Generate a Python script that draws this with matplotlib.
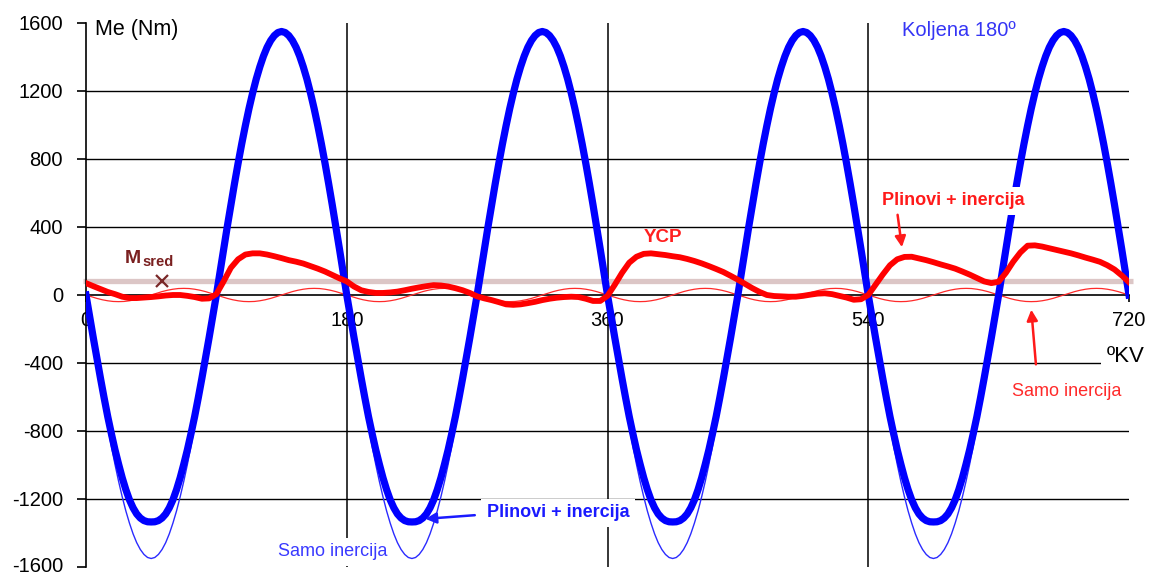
import numpy as np
import matplotlib
matplotlib.use("Agg")
import matplotlib.pyplot as plt
import matplotlib.transforms as mtransforms

plt.rcParams['font.family'] = ['Liberation Sans', 'DejaVu Sans']
plt.rcParams['axes.unicode_minus'] = False

# crank angle ticks and torque ticks
x_ticks = [0, 180, 360, 540, 720]
y_ticks = [-1600, -1200, -800, -400, 0, 400, 800, 1200, 1600]
y_labels = ['-1600', '-1200', '-800', '-400', '0', '400', '800', '1200', '1600']

# blue curves: one 180 deg cycle read at 2.5 deg steps (the four cycles look identical)
blue_step = 2.5
blue_gas_cycle = [0, -125, -250, -370, -490, -605, -715, -815, -910, -995,
                  -1075, -1145, -1205, -1252, -1288, -1312, -1327, -1334, -1335, -1334,
                  -1327, -1312, -1288, -1252, -1205, -1145, -1075, -995, -910, -815,
                  -715, -605, -490, -370, -250, -125,
                  0, 135, 269, 401, 530, 655, 775, 889, 996, 1096,
                  1187, 1270, 1342, 1405, 1457, 1497, 1526, 1544, 1550, 1544,
                  1526, 1497, 1457, 1405, 1342, 1270, 1187, 1096, 996, 889,
                  775, 655, 530, 401, 269, 135]
blue_inertia_cycle = [0, -135, -269, -401, -530, -655, -775, -889, -996, -1096,
                      -1187, -1270, -1342, -1405, -1457, -1497, -1526, -1544, -1550, -1544,
                      -1526, -1497, -1457, -1405, -1342, -1270, -1187, -1096, -996, -889,
                      -775, -655, -530, -401, -269, -135,
                      0, 135, 269, 401, 530, 655, 775, 889, 996, 1096,
                      1187, 1270, 1342, 1405, 1457, 1497, 1526, 1544, 1550, 1544,
                      1526, 1497, 1457, 1405, 1342, 1270, 1187, 1096, 996, 889,
                      775, 655, 530, 401, 269, 135]

# red "YCP" gas + inertia, read every 5 deg over 0..720
red_step = 5
red_gas = [70, 52, 35, 18, 5, -10, -18, -18, -15, -12,
           -8, -3, 0, 0, -5, -12, -22, -20, 5, 80,
           160, 210, 238, 245, 245, 238, 228, 217, 205, 196,
           185, 170, 155, 138, 118, 98, 80, 50, 28, 18,
           12, 12, 15, 20, 28, 37, 45, 52, 58, 56,
           50, 40, 28, 12, -8, -20, -30, -42, -55, -58,
           -55, -48, -40, -30, -22, -16, -12, -10, -12, -22,
           -35, -35, -5, 60, 130, 190, 225, 242, 245, 240,
           235, 228, 222, 212, 200, 186, 170, 153, 135, 113,
           90, 65, 40, 18, 0, -6, -8, -10, -10, -5,
           2, 8, 10, 5, -5, -15, -28, -25, 0, 60,
           120, 175, 210, 224, 225, 215, 205, 193, 180, 168,
           155, 138, 120, 100, 80, 70, 78, 130, 195, 250,
           290, 292, 285, 275, 265, 255, 245, 233, 220, 208,
           195, 175, 150, 115, 75]

# red thin "samo inercija": one 90 deg cycle at 3.75 deg steps
red_inertia_step = 3.75
red_inertia_cycle = [0, -10, -20, -28, -34, -38, -39, -38, -34, -28, -20, -10,
                     0, 10, 20, 28, 34, 38, 39, 38, 34, 28, 20, 10]

m_sred = 85

x_blue = np.arange(0, 720 + blue_step, blue_step)
y_blue_gas = np.append(np.tile(blue_gas_cycle, 4), 0)
y_blue_in = np.append(np.tile(blue_inertia_cycle, 4), 0)
x_red = np.arange(len(red_gas)) * red_step
x_red_in = np.arange(0, 720 + red_inertia_step, red_inertia_step)
y_red_in = np.append(np.tile(red_inertia_cycle, 8), 0)

fig = plt.figure(figsize=(11.49, 5.76), dpi=100)
ax = fig.add_axes([86 / 1149, 1 - 567 / 576, (1129 - 86) / 1149, (567 - 23) / 576])
ax.set_xlim(0, 720)
ax.set_ylim(-1600, 1600)

for s in ['top', 'right']:
    ax.spines[s].set_visible(False)
ax.spines['bottom'].set_position(('data', 0))
ax.spines['bottom'].set_linewidth(1.2)
ax.spines['left'].set_linewidth(1.2)
ax.spines['bottom'].set_zorder(1)

ax.set_xticks(x_ticks)
ax.set_yticks(y_ticks)
ax.set_yticklabels(y_labels)
ax.tick_params(axis='y', direction='out', length=6.5, width=1.2, pad=10, labelsize=14.5)
ax.tick_params(axis='x', direction='out', length=5, width=1.2, pad=6.5, labelsize=14.5)
# keep the lowest label inside the picture
lab = ax.yaxis.get_major_ticks()[0].label1
lab.set_transform(lab.get_transform() + mtransforms.ScaledTranslation(0, 0.03, fig.dpi_scale_trans))

# grid
for yv in [-1200, -800, 400, 800, 1200]:
    ax.plot([0, 720], [yv, yv], color='black', lw=1, zorder=1)
ax.plot([0, 707], [-400, -400], color='black', lw=1, zorder=1)
for xv in [180, 360, 540]:
    ax.plot([xv, xv], [-1600, 1600], color='black', lw=1.1, zorder=1)

# mean torque line
ax.plot([-2, 723], [m_sred, m_sred], color='#dcc6c6', lw=3.8, zorder=2, clip_on=False,
        solid_capstyle='butt')

# curves
ax.plot(x_red_in, y_red_in, color='#ff2a2a', lw=0.9, zorder=3)
ax.plot(x_blue, y_blue_in, color='#2b2bff', lw=1.0, zorder=3)
ax.plot(x_blue, y_blue_gas, color='#0000ff', lw=5.2, zorder=4, solid_joinstyle='round')
ax.plot(x_red, red_gas, color='#ff0000', lw=4.2, zorder=5, solid_joinstyle='round')

ax.plot([52.4], [m_sred], marker='x', color='#7a2828', ms=8, mew=1.6, zorder=6)

# texts
box = dict(facecolor='white', edgecolor='none', pad=4)
ax.text(6.2, 1559, 'Me (Nm)', fontsize=15.5, va='center', ha='left', color='black')
ax.text(563.5, 1553, 'Koljena 180º', fontsize=14.5, va='center', ha='left', color='#3535f5')
ax.text(398, 341, 'YCP', fontsize=13.5, fontweight='bold', va='center', ha='center', color='#ff2020')
ax.text(26.9, 188, 'M', fontsize=14, fontweight='bold', color='#7a2020', va='baseline')
ax.text(39.3, 170, 'sred', fontsize=10.5, fontweight='bold', color='#7a2020', va='baseline')
ax.text(704.8, -363, 'ºKV', fontsize=16, va='center', ha='left', color='black', bbox=box, zorder=7)

ax.text(549.7, 555, 'Plinovi + inercija', fontsize=13, fontweight='bold', color='#ff1a1a',
        va='center', ha='left', bbox=box, zorder=7)
ax.annotate('', xy=(563.5, 265), xytext=(560, 488),
            arrowprops=dict(arrowstyle='-|>', color='#ff1a1a', lw=1.8, mutation_scale=16), zorder=7)
ax.text(639.3, -569, 'Samo inercija', fontsize=13, color='#ff2a2a',
        va='center', ha='left', bbox=box, zorder=7)
ax.annotate('', xy=(652.4, -70), xytext=(655.9, -424),
            arrowprops=dict(arrowstyle='-|>', color='#ff1a1a', lw=1.8, mutation_scale=16), zorder=7)

ax.text(276.6, -1282, 'Plinovi + inercija', fontsize=13, fontweight='bold', color='#1a1aff',
        va='center', ha='left', bbox=box, zorder=7)
ax.annotate('', xy=(232.4, -1318), xytext=(270.3, -1294),
            arrowprops=dict(arrowstyle='-|>', color='#1a1aff', lw=1.8, mutation_scale=16), zorder=7)
ax.text(132.4, -1510, 'Samo inercija', fontsize=13, color='#3a3aff',
        va='center', ha='left', bbox=box, zorder=7)

fig.savefig('out.png', dpi=100)
